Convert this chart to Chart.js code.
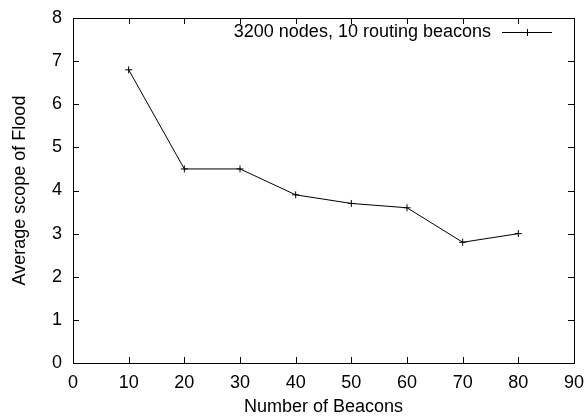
<!DOCTYPE html>
<html>
<head>
<meta charset="utf-8">
<script src="https://cdn.jsdelivr.net/npm/chart.js@4/dist/chart.umd.min.js"></script>
<style>
    html, body { margin: 0; padding: 0; background: #fff; }
    #wrap { width: 588px; height: 418px; }
</style>
</head>
<body>
<div id="wrap"><canvas id="scopeChart"></canvas></div>
<script>
// Data
const beacons = [10, 20, 30, 40, 50, 60, 70, 80];
const avgScope = [6.8, 4.5, 4.5, 3.9, 3.7, 3.6, 2.8, 3.0];
const seriesLabel = '3200 nodes, 10 routing beacons';
const xTicks = [0, 10, 20, 30, 40, 50, 60, 70, 80, 90];
const yTicks = [0, 1, 2, 3, 4, 5, 6, 7, 8];

const fontFamily = '"Liberation Sans", Arial, sans-serif';
const fontSize = 18;

// Frame with inward ticks on all four sides, plus the gnuplot-like key
const framePlugin = {
    id: 'frame',
    afterDraw(chart) {
        const ctx = chart.ctx;
        const area = chart.chartArea;
        const xs = chart.scales.x;
        const ys = chart.scales.y;
        const tl = 6;
        ctx.save();
        ctx.strokeStyle = '#000';
        ctx.lineWidth = 1;
        ctx.strokeRect(area.left + 0.5, area.top + 0.5, area.right - area.left, area.bottom - area.top);
        ctx.beginPath();
        xTicks.forEach(function (v) {
            const px = Math.round(xs.getPixelForValue(v)) + 0.5;
            ctx.moveTo(px, area.bottom);
            ctx.lineTo(px, area.bottom - tl);
            ctx.moveTo(px, area.top);
            ctx.lineTo(px, area.top + tl);
        });
        yTicks.forEach(function (v) {
            const py = Math.round(ys.getPixelForValue(v)) + 0.5;
            ctx.moveTo(area.left, py);
            ctx.lineTo(area.left + tl, py);
            ctx.moveTo(area.right, py);
            ctx.lineTo(area.right - tl, py);
        });
        ctx.stroke();

        // key
        const keyY = area.top + 14;
        const lineEnd = area.right - 22;
        const lineStart = lineEnd - 50;
        ctx.font = fontSize + 'px ' + fontFamily;
        ctx.fillStyle = '#000';
        ctx.textAlign = 'right';
        ctx.textBaseline = 'middle';
        ctx.fillText(seriesLabel, lineStart - 11, keyY);
        ctx.beginPath();
        ctx.moveTo(lineStart, keyY + 0.5);
        ctx.lineTo(lineEnd, keyY + 0.5);
        const mid = Math.round((lineStart + lineEnd) / 2) + 0.5;
        ctx.moveTo(mid, keyY - 3);
        ctx.lineTo(mid, keyY + 4);
        ctx.stroke();
        ctx.restore();
    }
};

new Chart(document.getElementById('scopeChart').getContext('2d'), {
    type: 'line',
    data: {
        datasets: [{
            label: seriesLabel,
            data: beacons.map(function (b, i) { return { x: b, y: avgScope[i] }; }),
            borderColor: '#000',
            borderWidth: 1,
            backgroundColor: '#000',
            pointStyle: 'cross',
            pointRadius: 3.5,
            pointBorderColor: '#000',
            pointBorderWidth: 1,
            tension: 0,
            fill: false
        }]
    },
    options: {
        responsive: true,
        maintainAspectRatio: false,
        animation: false,
        devicePixelRatio: 1,
        layout: {
            padding: { top: 18, right: 14, left: 0, bottom: 0 }
        },
        scales: {
            x: {
                type: 'linear',
                min: 0,
                max: 90,
                afterBuildTicks: function (scale) {
                    scale.ticks = xTicks.map(function (v) { return { value: v }; });
                },
                afterFit: function (scale) {
                    scale.height = 55;
                    scale.paddingLeft = 0;
                    scale.paddingRight = 0;
                },
                grid: { display: false, drawTicks: false },
                border: { display: false },
                ticks: {
                    padding: 9,
                    color: '#000',
                    font: { family: fontFamily, size: fontSize }
                },
                title: {
                    display: true,
                    text: 'Number of Beacons',
                    color: '#000',
                    font: { family: fontFamily, size: fontSize },
                    padding: { top: 0, bottom: 0 }
                }
            },
            y: {
                min: 0,
                max: 8,
                afterBuildTicks: function (scale) {
                    scale.ticks = yTicks.map(function (v) { return { value: v }; });
                },
                afterFit: function (scale) {
                    scale.width = 73;
                    scale.paddingTop = 0;
                    scale.paddingBottom = 0;
                },
                grid: { display: false, drawTicks: false },
                border: { display: false },
                ticks: {
                    padding: 11,
                    color: '#000',
                    font: { family: fontFamily, size: fontSize }
                },
                title: {
                    display: true,
                    text: 'Average scope of Flood',
                    color: '#000',
                    font: { family: fontFamily, size: fontSize },
                    padding: { top: 9, bottom: 0 }
                }
            }
        },
        plugins: {
            legend: { display: false },
            tooltip: { enabled: false }
        }
    },
    plugins: [framePlugin]
});
</script>
</body>
</html>
